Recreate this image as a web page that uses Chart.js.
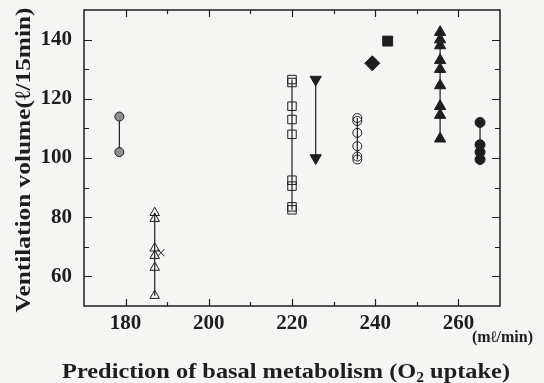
<!DOCTYPE html>
<html><head><meta charset="utf-8">
<script src="https://cdn.jsdelivr.net/npm/chart.js@4"></script>
<style>html,body{margin:0;padding:0;background:#f5f5f4;} #wrap{width:544px;height:383px;position:relative}</style>
</head><body><div id="wrap"><canvas id="c" width="544" height="383"></canvas></div>
<script>
// ---- data ----
const xTickLabels = [180, 200, 220, 240, 260];
const yTickLabels = [60, 80, 100, 120, 140];
const xUnit = '(mℓ/min)';
const yTitle = 'Ventilation volume(ℓ/15min)';
const xTitleParts = ['Prediction of basal metabolism (O', '2', ' uptake)'];

const grayCircleX = 178.5;  const grayCircleY = [114, 102];
const openTriX = 187;       const openTriY = [81.5, 79.5, 69.5, 67, 63, 53.5];
const crossX = 188.5;       const crossY = [68];
const openSqX = 220;        const openSqY = [126.5, 125.5, 117.5, 113, 108, 92.5, 90.5, 83.5, 82.5];
const downTriX = 225.7;     const downTriY = [126.5, 100];
const openCircX = 235.7;    const openCircY = [113.5, 112.5, 108.5, 104, 100.5, 99.5];
const diamondX = 239.3;     const diamondY = [132];
const filledSqX = 243;      const filledSqY = [139.5];
const filledTriX = 255.6;   const filledTriY = [142.5, 140, 138, 133, 130, 124.5, 117.5, 114.5, 106.5];
const filledCircX = 265.2;  const filledCircY = [112, 104.5, 102, 99.5];

const INK = '#1e1e1e';
const SERIF = '"Liberation Serif", "DejaVu Serif", serif';

function pts(x, ys) { return ys.map(y => ({x, y})); }
function ds(x, ys, style, opts) {
  return Object.assign({
    data: pts(x, ys), showLine: ys.length > 1, borderColor: INK, borderWidth: 1.2,
    pointStyle: style, pointRadius: 4.5, pointBorderColor: INK, pointBorderWidth: 1,
    pointBackgroundColor: 'rgba(0,0,0,0)', pointRotation: 0
  }, opts || {});
}

function fitText(ctx, text, x, y, targetW, align) {
  const w = ctx.measureText(text).width;
  const k = targetW / w;
  ctx.save();
  ctx.translate(x, y); ctx.scale(k, 1);
  ctx.textAlign = align; ctx.fillText(text, 0, 0);
  ctx.restore();
}

const frame = {
  id: 'frame',
  beforeDraw(chart) {
    const {ctx} = chart;
    ctx.save(); ctx.fillStyle = '#f5f5f4'; ctx.fillRect(0, 0, chart.width, chart.height); ctx.restore();
  },
  afterDraw(chart) {
    const {ctx, chartArea: a, scales: {x, y}} = chart;
    ctx.save();
    ctx.strokeStyle = INK; ctx.lineWidth = 1.5;
    ctx.strokeRect(a.left, a.top, a.right - a.left, a.bottom - a.top);
    ctx.lineWidth = 1.2;
    x.ticks.forEach(t => {
      if (t.value <= x.min || t.value >= x.max) return;
      const len = xTickLabels.includes(t.value) ? 7 : 4;
      const px = Math.round(x.getPixelForValue(t.value)) + 0.5;
      ctx.beginPath();
      ctx.moveTo(px, a.bottom); ctx.lineTo(px, a.bottom - len);
      ctx.moveTo(px, a.top); ctx.lineTo(px, a.top + len);
      ctx.stroke();
    });
    y.ticks.forEach(t => {
      if (t.value <= y.min || t.value >= y.max) return;
      const len = yTickLabels.includes(t.value) ? 8 : 5;
      const py = Math.round(y.getPixelForValue(t.value)) + 0.5;
      ctx.beginPath();
      ctx.moveTo(a.left, py); ctx.lineTo(a.left + len, py);
      ctx.moveTo(a.right, py); ctx.lineTo(a.right - len, py);
      ctx.stroke();
    });
    ctx.fillStyle = INK; ctx.textBaseline = 'alphabetic';
    // unit
    ctx.font = 'bold 16px ' + SERIF;
    ctx.textAlign = 'right';
    ctx.fillText(xUnit, 533, 342);
    // x title with subscript, stretched to the reference width
    const big = 'bold 22px ' + SERIF, small = 'bold 14px ' + SERIF;
    ctx.font = big; const w0 = ctx.measureText(xTitleParts[0]).width;
    const w2 = ctx.measureText(xTitleParts[2]).width;
    ctx.font = small; const w1 = ctx.measureText(xTitleParts[1]).width;
    const total = w0 + w1 + w2, target = 448, k = target / total;
    ctx.save();
    ctx.translate(62, 378); ctx.scale(k, 1);
    ctx.textAlign = 'left';
    let sx = 0;
    ctx.font = big; ctx.fillText(xTitleParts[0], sx, 0); sx += w0;
    ctx.font = small; ctx.fillText(xTitleParts[1], sx, 4); sx += w1;
    ctx.font = big; ctx.fillText(xTitleParts[2], sx, 0);
    ctx.restore();
    // y title
    ctx.save();
    ctx.translate(30, 160); ctx.rotate(-Math.PI / 2);
    ctx.font = big;
    fitText(ctx, yTitle, 0, 0, 305, 'center');
    ctx.restore();
    ctx.restore();
  }
};

new Chart(document.getElementById('c'), {
  type: 'scatter',
  data: {
    datasets: [
      ds(grayCircleX, grayCircleY, 'circle', {pointRadius: 4.5, pointBackgroundColor: '#8f8f8f'}),
      ds(openTriX, openTriY, 'triangle', {pointRadius: 5.5}),
      ds(crossX, crossY, 'crossRot', {pointRadius: 5}),
      ds(openSqX, openSqY, 'rect', {pointRadius: 6}),
      ds(downTriX, downTriY, 'triangle', {pointRadius: 6.5, pointRotation: 180, pointBackgroundColor: INK}),
      ds(openCircX, openCircY, 'circle', {pointRadius: 4.5}),
      ds(diamondX, diamondY, 'rectRot', {pointRadius: 7.5, pointBackgroundColor: INK}),
      ds(filledSqX, filledSqY, 'rect', {pointRadius: 7, pointBackgroundColor: INK}),
      ds(filledTriX, filledTriY, 'triangle', {pointRadius: 6.5, pointBackgroundColor: INK}),
      ds(filledCircX, filledCircY, 'circle', {pointRadius: 5, pointBackgroundColor: INK})
    ]
  },
  options: {
    responsive: false, animation: false,
    layout: {padding: {left: 0, top: 10, right: 44, bottom: 0}},
    plugins: {legend: {display: false}, tooltip: {enabled: false}},
    scales: {
      x: {
        type: 'linear', min: 170, max: 270,
        grid: {display: false, drawTicks: false}, border: {display: false},
        ticks: {stepSize: 10, autoSkip: false, maxRotation: 0, padding: 5, color: INK,
          font: {family: SERIF, size: 21, weight: 'bold'},
          callback: v => xTickLabels.includes(v) ? String(v) : ''},
        afterFit: s => { s.height = 77; s.paddingLeft = 0; s.paddingRight = 0; }
      },
      y: {
        type: 'linear', min: 50, max: 150,
        grid: {display: false, drawTicks: false}, border: {display: false},
        ticks: {stepSize: 10, autoSkip: false, padding: 12, color: INK,
          font: {family: SERIF, size: 21, weight: 'bold'},
          callback: v => yTickLabels.includes(v) ? String(v) : ''},
        afterFit: s => { s.width = 84; s.paddingTop = 0; s.paddingBottom = 0; }
      }
    }
  },
  plugins: [frame]
});
</script></body></html>
